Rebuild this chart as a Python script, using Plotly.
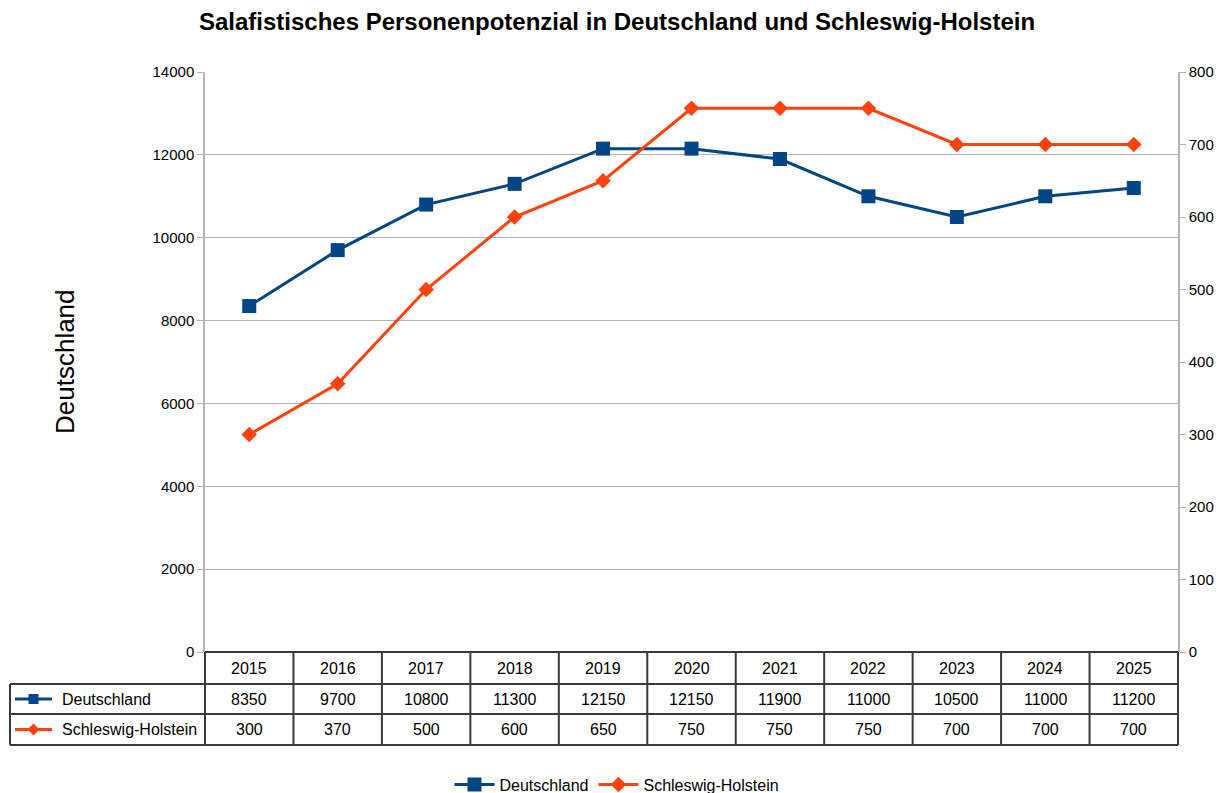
import plotly.graph_objects as go

years = ["2015", "2016", "2017", "2018", "2019", "2020", "2021", "2022", "2023", "2024", "2025"]
deutschland = [8350, 9700, 10800, 11300, 12150, 12150, 11900, 11000, 10500, 11000, 11200]
schleswig_holstein = [300, 370, 500, 600, 650, 750, 750, 750, 700, 700, 700]

series_names = ["Deutschland", "Schleswig-Holstein"]
BLUE = "#004586"
ORANGE = "#ff420e"
FONT = "Liberation Sans, Arial, sans-serif"
BORDER = "#3a3a3a"

W, H = 1219, 793
ML, MR, MT, MB = 205, 41, 72, 141
PW = W - ML - MR
PH = H - MT - MB

def px_x(px):
    return (px - ML) / PW

def px_y(py):
    return (H - MB - py) / PH

fig = go.Figure()
fig.add_trace(go.Scatter(
    x=years, y=deutschland, name=series_names[0], mode="lines+markers",
    line=dict(color=BLUE, width=3),
    marker=dict(symbol="square", size=14, color=BLUE),
    yaxis="y",
))
fig.add_trace(go.Scatter(
    x=years, y=schleswig_holstein, name=series_names[1], mode="lines+markers",
    line=dict(color=ORANGE, width=3),
    marker=dict(symbol="diamond", size=12, color=ORANGE),
    yaxis="y2",
))

n = len(years)
row_edges_px = [652, 684, 714, 745]
row_edges = [px_y(p) for p in row_edges_px]
left_paper = px_x(10)

shapes = []
line_style = dict(color=BORDER, width=2)
shapes.append(dict(type="line", xref="paper", yref="paper", x0=0, x1=1, y0=row_edges[0], y1=row_edges[0], line=line_style))
for ye in row_edges[1:]:
    shapes.append(dict(type="line", xref="paper", yref="paper", x0=left_paper, x1=1, y0=ye, y1=ye, line=line_style))
for k in range(n + 1):
    shapes.append(dict(type="line", xref="paper", yref="paper", x0=k / n, x1=k / n,
                       y0=row_edges[0], y1=row_edges[-1], line=line_style))
shapes.append(dict(type="line", xref="paper", yref="paper", x0=left_paper, x1=left_paper,
                   y0=row_edges[1], y1=row_edges[-1], line=line_style))

row_centers = [(row_edges[i] + row_edges[i + 1]) / 2 for i in range(3)]
icon_x0, icon_x1 = px_x(15), px_x(52)
icon_c = (icon_x0 + icon_x1) / 2
for i, (col, sym) in enumerate([(BLUE, "square"), (ORANGE, "diamond")]):
    yc = row_centers[i + 1]
    shapes.append(dict(type="line", xref="paper", yref="paper", x0=icon_x0, x1=icon_x1, y0=yc, y1=yc,
                       line=dict(color=col, width=3)))
    if sym == "square":
        hx, hy = 5 / PW, 5 / PH
        shapes.append(dict(type="rect", xref="paper", yref="paper", x0=icon_c - hx, x1=icon_c + hx,
                           y0=yc - hy, y1=yc + hy, fillcolor=col, line=dict(width=0)))
    else:
        hx2, hy2 = 6 / PW, 6 / PH
        path = f"M {icon_c - hx2} {yc} L {icon_c} {yc + hy2} L {icon_c + hx2} {yc} L {icon_c} {yc - hy2} Z"
        shapes.append(dict(type="path", xref="paper", yref="paper", path=path, fillcolor=col, line=dict(width=0)))

annotations = []
tfont = dict(family=FONT, size=16, color="black")
for j, yr in enumerate(years):
    xc = (j + 0.5) / n
    for r, txt in enumerate([yr, str(deutschland[j]), str(schleswig_holstein[j])]):
        annotations.append(dict(x=xc, xref="paper", y=row_centers[r], yref="paper", text=txt,
                                showarrow=False, font=tfont, xanchor="center", yanchor="middle"))
for i, name in enumerate(series_names):
    annotations.append(dict(x=px_x(60), xref="paper", y=row_centers[i + 1], yref="paper", text=name,
                            showarrow=False, font=tfont, xanchor="left", yanchor="middle"))
annotations.append(dict(x=px_x(65), xref="paper", y=px_y(362), yref="paper", text="Deutschland",
                        textangle=-90, showarrow=False, font=dict(family=FONT, size=26, color="black"),
                        xanchor="center", yanchor="middle"))

fig.update_layout(
    width=W, height=H,
    margin=dict(l=ML, r=MR, t=MT, b=MB, autoexpand=False),
    paper_bgcolor="white", plot_bgcolor="white",
    font=dict(family=FONT, size=15, color="black"),
    title=dict(text="<b>Salafistisches Personenpotenzial in Deutschland und Schleswig-Holstein</b>",
               x=617 / W, xanchor="center", y=1 - 22 / H, yanchor="middle",
               font=dict(family=FONT, size=24, color="black")),
    xaxis=dict(type="category", range=[-0.5, n - 0.5], showticklabels=False, showgrid=False,
               zeroline=False, showline=False, ticks=""),
    yaxis=dict(range=[0, 14000], dtick=2000, tickformat="d", showgrid=True, gridcolor="#b3b3b3", gridwidth=1,
               zeroline=False, showline=True, linecolor="#b3b3b3", linewidth=1.5,
               ticks="outside", ticklen=6, tickcolor="#b3b3b3", tickfont=dict(size=15)),
    yaxis2=dict(range=[0, 800], dtick=100, tickformat="d", overlaying="y", side="right", showgrid=False,
                zeroline=False, showline=True, linecolor="#b3b3b3", linewidth=1.5,
                ticks="outside", ticklen=6, tickcolor="#b3b3b3", tickfont=dict(size=15)),
    legend=dict(orientation="h", xref="container", x=617 / W, xanchor="center",
                yref="container", y=0.032, yanchor="top", font=dict(size=16, family=FONT),
                itemwidth=40),
    shapes=shapes,
    annotations=annotations,
)

fig.write_html("out.html", config={"displayModeBar": False},
               post_script="document.body.style.margin='0';document.body.style.overflow='hidden';")
